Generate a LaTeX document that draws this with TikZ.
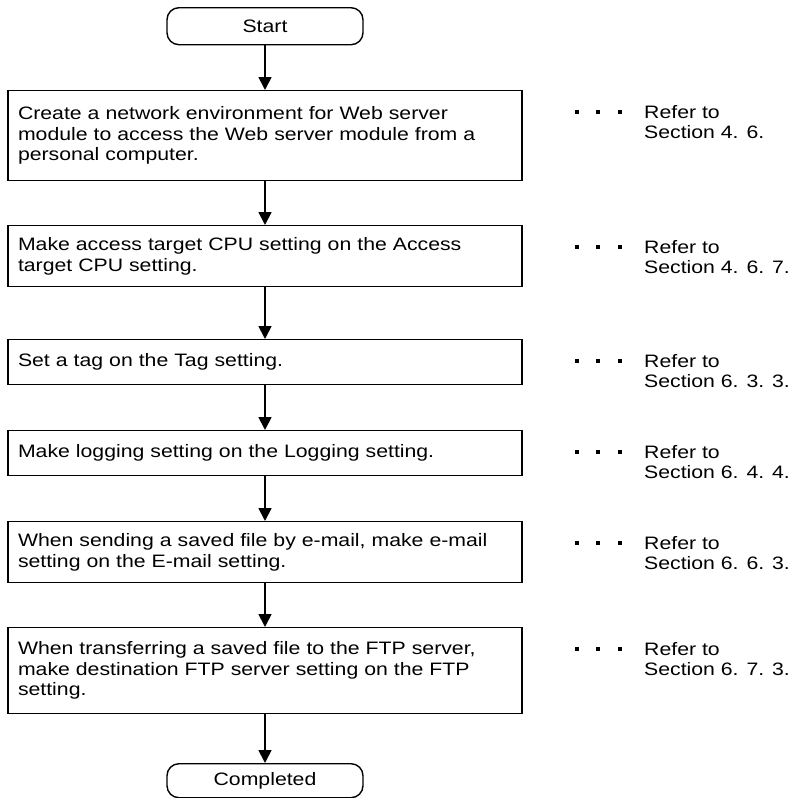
\documentclass[tikz,border=0pt]{standalone}
\usepackage{fontspec}
\setmainfont[FakeStretch=1.18]{Liberation Sans}
\usetikzlibrary{arrows.meta}
\begin{document}
\begin{tikzpicture}[x=1pt,y=-1pt,
  every node/.style={font=\fontsize{18}{20.5}\selectfont},
  box/.style={draw, line width=1.4pt, text width=494pt, inner xsep=10pt, inner ysep=0pt, align=left, anchor=north},
  term/.style={draw, line width=1.4pt, rounded corners=12pt, minimum width=196pt, inner sep=0pt, anchor=north},
  flow/.style={line width=1.8pt, -{Triangle[width=13pt,length=13pt]}},
  ref/.style={anchor=base west, align=left, inner sep=0pt}
]
\useasboundingbox (0,0) rectangle (790,798);

\node[term, minimum height=37pt] (s) at (265,7) {Start};
\node[box, minimum height=90pt] (b1) at (265,90) {Create a network environment for Web server\\module to access the Web server module from a\\personal computer.};
\node[box, minimum height=61pt] (b2) at (265,225) {Make access target CPU setting on the Access\\target CPU setting.};
\node[box, minimum height=45pt] (b3) at (265,339) {Set a tag on the Tag setting.};
\node[box, minimum height=45pt] (b4) at (265,430) {Make logging setting on the Logging setting.};
\node[box, minimum height=61pt] (b5) at (265,521) {When sending a saved file by e-mail, make e-mail\\setting on the E-mail setting.};
\node[box, minimum height=86pt] (b6) at (265,627) {When transferring a saved file to the FTP server,\\make destination FTP server setting on the FTP\\setting.};
\node[term, minimum height=34pt] (e) at (265,763) {Completed};

\draw[flow] (s) -- (b1);
\draw[flow] (b1) -- (b2);
\draw[flow] (b2) -- (b3);
\draw[flow] (b3) -- (b4);
\draw[flow] (b4) -- (b5);
\draw[flow] (b5) -- (b6);
\draw[flow] (b6) -- (e);

\foreach \t/\sec [count=\i] in {90/4. 6., 225/4. 6. 7., 339/6. 3. 3., 430/6. 4. 4., 521/6. 6. 3., 627/6. 7. 3.}{
  \node[ref] (r\i) at (644,\t+48.5) {Refer to\\Section \sec};
  \foreach \dx in {577,598,620}{
    \fill (\dx-1.8,\t+28-7.8) rectangle (\dx+1.8,\t+28-4.2);
  }
}
\end{tikzpicture}
\end{document}
